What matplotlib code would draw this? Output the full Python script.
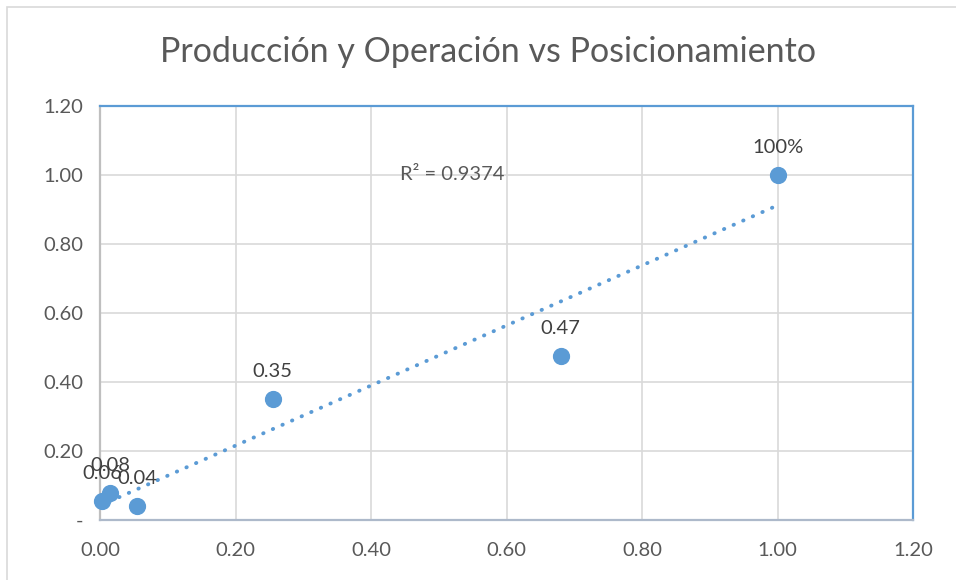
import numpy as np
import matplotlib.pyplot as plt
from matplotlib.patches import Rectangle

# values
posicionamiento = [0.003, 0.015, 0.055, 0.255, 0.68, 1.00]
produccion = [0.055, 0.077, 0.040, 0.350, 0.475, 1.00]
etiquetas = ["0.06", "0.08", "0.04", "0.35", "0.47", "100%"]
r2_text = "R² = 0.9374"
ticks = [0.0, 0.2, 0.4, 0.6, 0.8, 1.0, 1.2]
xtick_labels = ["0.00", "0.20", "0.40", "0.60", "0.80", "1.00", "1.20"]
ytick_labels = ["-", "0.20", "0.40", "0.60", "0.80", "1.00", "1.20"]

plt.rcParams['font.family'] = ['Lato', 'DejaVu Sans']
text_col = "#595959"
blue = "#5b9bd5"
grid_col = "#d9d9d9"

fig = plt.figure(figsize=(9.56, 5.8), dpi=100)
W, H = 956, 580
ax = fig.add_axes([100 / W, 1 - 520 / H, 813 / W, 414 / H])

# chart border
fig.patches.append(Rectangle((7 / W, -0.01), 1.0, 1 - 7 / H + 0.01,
                             transform=fig.transFigure, fill=False,
                             edgecolor="#d9d9d9", linewidth=1.2))

ax.set_xlim(0, 1.2)
ax.set_ylim(0, 1.2)
ax.set_xticks(ticks)
ax.set_yticks(ticks)
ax.set_xticklabels(xtick_labels)
ax.set_yticklabels(ytick_labels)
ax.tick_params(length=0, labelsize=14.5, colors=text_col, pad=12)
ax.tick_params(axis="x", pad=16)
ax.grid(True, color=grid_col, linewidth=1.2)
ax.set_axisbelow(True)

for side in ["top", "right"]:
    ax.spines[side].set_color(blue)
    ax.spines[side].set_linewidth(1.6)
for side in ["left", "bottom"]:
    ax.spines[side].set_color("#bfbfbf")
    ax.spines[side].set_linewidth(1.6)
ax.spines["bottom"].set_color("#adb9ca")

x = np.array(posicionamiento)
y = np.array(produccion)
m, b = np.polyfit(x, y, 1)
xl = np.array([0.0, x.max()])
ax.plot(xl, m * xl + b, linestyle=(0, (0.1, 2.6)), color=blue, linewidth=2.8,
        dash_capstyle="round", zorder=2)

ax.scatter(x, y, s=130, color=blue, zorder=3, clip_on=False)

for xi, yi, lab in zip(x, y, etiquetas):
    ax.annotate(lab, (xi, yi), xytext=(0, 14), textcoords="offset points",
                ha="center", va="bottom", fontsize=14.5, color="#404040")

ax.text(0.52, 1.0, r2_text, ha="center", va="center", fontsize=14.5,
        color=text_col)

fig.text(488 / W, 1 - 52 / H, "Producción y Operación vs Posicionamiento",
         ha="center", va="center", fontsize=24.5, color=text_col)

fig.savefig("out.png", dpi=100)
